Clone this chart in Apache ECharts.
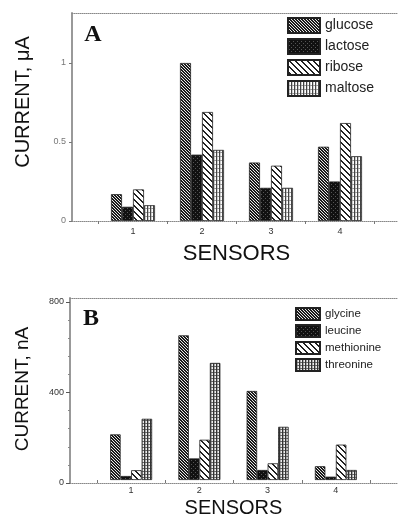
<!DOCTYPE html>
<html><head><meta charset="utf-8">
<script src="https://cdn.jsdelivr.net/npm/echarts@6/dist/echarts.min.js"></script>
<style>html,body{margin:0;padding:0;background:#fff}#c{width:399px;height:519px}</style>
</head><body><div id="c"></div>
<script>
// ---- data ----
const sensors = ['1', '2', '3', '4'];
const sugarNames = ['glucose', 'lactose', 'ribose', 'maltose'];
const glucose = [0.17, 1.0, 0.37, 0.47];
const lactose = [0.09, 0.42, 0.21, 0.25];
const ribose = [0.20, 0.69, 0.35, 0.62];
const maltose = [0.10, 0.45, 0.21, 0.41];
const aminoNames = ['glycine', 'leucine', 'methionine', 'threonine'];
const glycine = [205, 650, 400, 62];
const leucine = [18, 97, 45, 15];
const methionine = [44, 181, 75, 159];
const threonine = [275, 526, 239, 45];
const yTicksA = [0, 0.5, 1];
const yTicksB = [0, 400, 800];

// ---- patterns ----
function tile(w, h, fn) {
  const c = document.createElement('canvas'); c.width = w; c.height = h;
  const g = c.getContext('2d');
  for (let y = 0; y < h; y++) for (let x = 0; x < w; x++) { g.fillStyle = fn(x, y); g.fillRect(x, y, 1, 1); }
  return { image: c, repeat: 'repeat' };
}
function diag(s, w, fg, bg) {
  return tile(s, s, (x, y) => ((((x - y) % s) + s) % s < w) ? fg : bg);
}
const pDense = diag(3, 2, '#1a1a1a', '#e8e8e8');
const pLight = diag(6, 2, '#222', '#ffffff');
const pBlack = tile(4, 4, (x, y) => (x === 1 && y === 2) || (x === 3 && y === 0) ? '#555' : '#111');
const pVert = tile(3, 4, (x, y) => x === 0 ? '#444' : (y === 0 ? '#999' : (x === 1 ? '#ccc' : '#fff')));
const pVertDark = tile(3, 3, (x, y) => x === 0 ? '#333' : (y === 0 ? '#666' : (x === 1 ? '#aaa' : '#eee')));

const maxA = 208 / 158;
const maxB = 185 / 0.22625;
const font = 'Liberation Sans';

function bars(name, data, xi, yi, color, bw) {
  return { type: 'bar', name, data, xAxisIndex: xi, yAxisIndex: yi, barWidth: bw, barGap: '0%',
    itemStyle: { color, borderColor: '#222', borderWidth: 0.8 } };
}
function frameX(gi, pos) {
  return { type: 'value', gridIndex: gi, position: pos, min: 0, max: 1,
    axisLine: { show: true, lineStyle: { color: '#888', width: 1, type: 'dotted' } },
    axisTick: { show: false }, axisLabel: { show: false }, splitLine: { show: false } };
}
function catX(gi, labelSize, nameSize, nameGap) {
  return { type: 'category', gridIndex: gi, data: sensors,
    axisLine: { show: false },
    axisTick: { show: true, length: 3, lineStyle: { color: '#777' } },
    axisLabel: { fontSize: labelSize, color: '#333', margin: 6, fontFamily: font },
    name: 'SENSORS', nameLocation: 'middle', nameGap,
    nameTextStyle: { fontSize: nameSize, color: '#111', fontFamily: font } };
}

const chart = echarts.init(document.getElementById('c'), null, { renderer: 'canvas' });
chart.setOption({
  animation: false,
  backgroundColor: '#fff',
  grid: [
    { left: 72, top: 13, width: 325, height: 208 },
    { left: 98.5, top: 13, width: 276, height: 208 },
    { left: 70, top: 298, width: 327, height: 185 },
    { left: 97, top: 298, width: 273, height: 185 }
  ],
  xAxis: [
    frameX(0, 'bottom'), frameX(0, 'top'),
    catX(1, 9, 22, 22),
    frameX(2, 'bottom'), frameX(2, 'top'),
    catX(3, 9, 20, 18)
  ],
  yAxis: [
    { type: 'value', gridIndex: 0, min: 0, max: maxA, interval: 0.5,
      axisLine: { show: true, lineStyle: { color: '#999', width: 2 } },
      axisTick: { show: true, length: 3, customValues: yTicksA, lineStyle: { color: '#777' } },
      axisLabel: { customValues: yTicksA, fontSize: 9, color: '#777', margin: 6, fontFamily: font },
      splitLine: { show: false } },
    { type: 'value', gridIndex: 1, min: 0, max: maxA, show: false, splitLine: { show: false } },
    { type: 'value', gridIndex: 2, min: 0, max: maxB, interval: 400,
      axisLine: { show: true, lineStyle: { color: '#999', width: 2 } },
      axisTick: { show: true, length: 4, customValues: yTicksB, lineStyle: { color: '#555' } },
      minorTick: { show: true, splitNumber: 5, length: 2, lineStyle: { color: '#888' } },
      axisLabel: { customValues: yTicksB, fontSize: 9, color: '#333', margin: 6, fontFamily: font },
      splitLine: { show: false } },
    { type: 'value', gridIndex: 3, min: 0, max: maxB, show: false, splitLine: { show: false } }
  ],
  legend: [
    { data: sugarNames, orient: 'vertical', left: 287, top: 17, padding: 0, itemWidth: 32, itemHeight: 15,
      itemGap: 4, selectedMode: false, icon: 'rect',
      textStyle: { fontSize: 14, color: '#222', fontFamily: font } },
    { data: aminoNames, orient: 'vertical', left: 295, top: 307, padding: 0, itemWidth: 24, itemHeight: 12,
      itemGap: 3, selectedMode: false, icon: 'rect',
      textStyle: { fontSize: 11.5, color: '#222', fontFamily: font } }
  ],
  graphic: [
    { type: 'text', x: 23, y: 102, rotation: Math.PI / 2,
      style: { text: 'CURRENT, μA', fontSize: 20, fontFamily: font, fill: '#111', align: 'center', verticalAlign: 'middle' } },
    { type: 'text', x: 23, y: 389, rotation: Math.PI / 2,
      style: { text: 'CURRENT, nA', fontSize: 19, fontFamily: font, fill: '#111', align: 'center', verticalAlign: 'middle' } },
    { type: 'text', x: 93, y: 35,
      style: { text: 'A', fontSize: 24, fontWeight: 'bold', fontFamily: 'Liberation Serif', fill: '#111', align: 'center', verticalAlign: 'middle' } },
    { type: 'text', x: 91, y: 319,
      style: { text: 'B', fontSize: 24, fontWeight: 'bold', fontFamily: 'Liberation Serif', fill: '#111', align: 'center', verticalAlign: 'middle' } }
  ],
  series: [
    bars('glucose', glucose, 2, 1, pDense, 11),
    bars('lactose', lactose, 2, 1, pBlack, 11),
    bars('ribose', ribose, 2, 1, pLight, 11),
    bars('maltose', maltose, 2, 1, pVert, 11),
    bars('glycine', glycine, 5, 3, pDense, 10.5),
    bars('leucine', leucine, 5, 3, pBlack, 10.5),
    bars('methionine', methionine, 5, 3, pLight, 10.5),
    bars('threonine', threonine, 5, 3, pVertDark, 10.5)
  ]
});
</script></body></html>
